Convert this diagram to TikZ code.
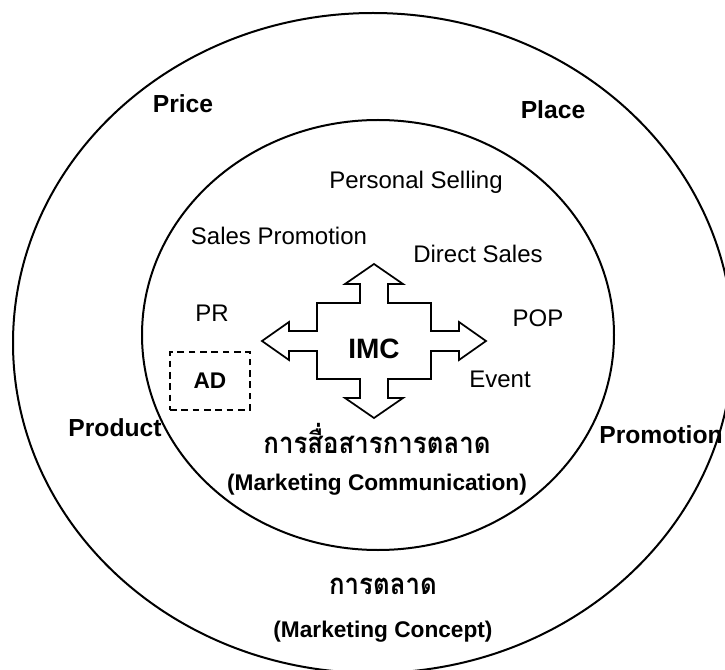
\documentclass[tikz,border=0pt]{standalone}
\usepackage{fontspec}
\setmainfont{Liberation Sans}
\newfontfamily\thaifont[Script=Thai,FakeStretch=0.88]{Loma}

\tikzset{
  mixlabel/.style={font=\bfseries\fontsize{18.5}{22}\selectfont},
  titlelabel/.style={font=\bfseries\fontsize{17}{20}\selectfont},
  toollabel/.style={font=\fontsize{18}{21}\selectfont},
  thailabel/.style={font=\thaifont\bfseries\fontsize{22}{26}\selectfont},
}

\begin{document}
\begin{tikzpicture}[x=0.75pt,y=-0.75pt,line width=1.5pt]
\clip (0,0) rectangle (725,670);

% Marketing concept: outer ring
\draw (373,343) ellipse [x radius=360, y radius=330];
% Marketing communication: inner ring
\draw (378,335) ellipse [x radius=236, y radius=215];

% 4P around the inner ring
\node[mixlabel] (price) at (183,104) {Price};
\node[mixlabel] (place) at (553,110) {Place};
\node[mixlabel] (product) at (115,428) {Product};
\node[mixlabel] (promotion) at (661,435) {Promotion};

% IMC cross
\begin{scope}[shift={(374,341)}]
  \draw[line width=1.3pt] (0,-77) -- (29,-57) -- (14,-57) -- (14,-38) --
    (57,-38) -- (57,-10) -- (85,-10) -- (85,-19) -- (112,0) --
    (85,19) -- (85,10) -- (57,10) -- (57,38) -- (14,38) --
    (14,57) -- (29,57) -- (0,77) -- (-29,57) -- (-14,57) --
    (-14,38) -- (-57,38) -- (-57,10) -- (-85,10) -- (-85,19) --
    (-112,0) -- (-85,-19) -- (-85,-10) -- (-57,-10) -- (-57,-38) --
    (-14,-38) -- (-14,-57) -- (-29,-57) -- cycle;
  \node[font=\bfseries\fontsize{21}{24}\selectfont] (imc) at (0,8) {IMC};
\end{scope}

% Communication tools
\node[toollabel] (selling) at (416,182) {Personal Selling};
\node[toollabel] (salespromo) at (279,236) {Sales Promotion};
\node[toollabel] (direct) at (478,254) {Direct Sales};
\node[toollabel] (pr) at (212,313) {PR};
\node[toollabel] (pop) at (538,318) {POP};
\node[toollabel] (event) at (500,379) {Event};
\node[titlelabel, draw, dashed, line width=1.2pt, dash pattern=on 5pt off 3.5pt,
  minimum width=60pt, minimum height=43.5pt] (ad) at (210,381) {AD};

% Ring titles
\node[thailabel] (mktcomth) at (377,438) {การสื่อสารการตลาด};
\node[titlelabel] (mktcom) at (377,485) {(Marketing Communication)};
\node[thailabel] (mktth) at (383,586) {การตลาด};
\node[titlelabel] (mkt) at (383,632) {(Marketing Concept)};

\end{tikzpicture}
\end{document}
